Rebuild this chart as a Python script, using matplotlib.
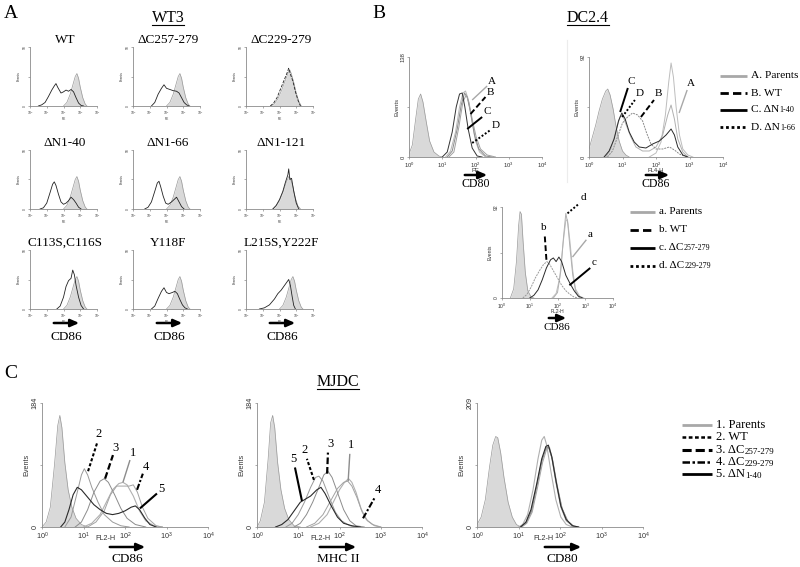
import matplotlib
matplotlib.use("Agg")
import matplotlib.pyplot as plt
import numpy as np
from matplotlib.ticker import NullLocator

plt.rcParams['mathtext.default'] = 'regular'

SERIF = 'Liberation Serif'
SANS = 'Liberation Sans'
W, H = 800, 567

# ---------------- panel A : WT3 (log10 position, fraction of y max) ----------------
A_TITLES = [["WT", "ΔC257-279", "ΔC229-279"],
            ["ΔN1-40", "ΔN1-66", "ΔN1-121"],
            ["C113S,C116S", "Y118F", "L215S,Y222F"]]
A_YMAX = 58

A_ISO = [(2.0, 0), (2.2, .06), (2.4, .2), (2.55, .35), (2.7, .5), (2.8, .55), (2.9, .47),
         (3.0, .32), (3.15, .14), (3.3, .03), (3.4, 0)]
A_ISO_C229 = [(1.5, 0), (1.7, .04), (1.9, .12), (2.1, .25), (2.3, .4), (2.5, .55), (2.6, .62),
              (2.7, .55), (2.85, .4), (3.0, .22), (3.15, .08), (3.3, 0)]
A_ISO_N121 = [(1.6, 0), (1.8, .05), (2.0, .14), (2.2, .28), (2.4, .45), (2.55, .55), (2.65, .52),
              (2.8, .38), (2.95, .18), (3.1, .05), (3.25, 0)]

A_WT = [(0.5, 0), (0.7, .02), (0.9, .06), (1.1, .16), (1.3, .27), (1.45, .34), (1.55, .38),
        (1.65, .32), (1.75, .27), (1.85, .22), (2.0, .24), (2.15, .27), (2.3, .25), (2.45, .28),
        (2.6, .24), (2.75, .14), (2.9, .05), (3.05, .01), (3.2, 0)]
A_C257 = [(1.1, 0), (1.3, .06), (1.5, .2), (1.7, .3), (1.85, .36), (2.0, .3), (2.2, .28),
          (2.4, .26), (2.6, .25), (2.75, .22), (2.9, .14), (3.05, .06), (3.2, .02), (3.35, 0)]
A_C229 = [(1.45, 0), (1.65, .05), (1.85, .14), (2.05, .28), (2.25, .42), (2.45, .56), (2.55, .64),
          (2.65, .54), (2.8, .42), (2.95, .24), (3.1, .1), (3.25, 0)]
A_N40 = [(0.6, 0), (0.8, .02), (1.0, .1), (1.2, .28), (1.35, .42), (1.45, .46), (1.55, .4),
         (1.7, .25), (1.85, .12), (2.0, .08), (2.15, .1), (2.3, .14), (2.45, .2), (2.6, .16),
         (2.75, .1), (2.9, .03), (3.05, 0)]
A_N66 = [(0.7, 0), (0.9, .03), (1.1, .12), (1.3, .3), (1.45, .44), (1.55, .47), (1.65, .38),
         (1.8, .22), (1.95, .1), (2.1, .08), (2.3, .12), (2.45, .16), (2.6, .2), (2.75, .12),
         (2.9, .04), (3.05, 0)]
A_N121 = [(1.6, 0), (1.8, .06), (2.0, .16), (2.2, .3), (2.35, .45), (2.5, .58), (2.55, .68),
          (2.62, .5), (2.72, .52), (2.85, .3), (3.0, .1), (3.15, 0)]
A_C113 = [(1.6, 0), (1.8, .05), (2.0, .2), (2.15, .38), (2.3, .48), (2.45, .52), (2.55, .66),
          (2.65, .58), (2.75, .4), (2.9, .2), (3.05, .06), (3.2, 0)]
A_Y118 = [(1.1, 0), (1.3, .05), (1.5, .18), (1.7, .3), (1.85, .36), (2.0, .28), (2.15, .26),
          (2.35, .28), (2.5, .3), (2.65, .26), (2.8, .16), (2.95, .07), (3.1, .02), (3.25, 0)]
A_L215 = [(0.8, 0), (1.1, .02), (1.4, .07), (1.7, .17), (1.9, .26), (2.1, .32), (2.3, .4),
          (2.45, .46), (2.55, .5), (2.65, .4), (2.75, .22), (2.85, .06), (2.95, 0)]

A_CURVES = [[A_WT, A_C257, A_C229], [A_N40, A_N66, A_N121], [A_C113, A_Y118, A_L215]]
A_ISOS = [[A_ISO, A_ISO, A_ISO_C229], [A_ISO, A_ISO, A_ISO_N121], [A_ISO, A_ISO, A_ISO]]

# ---------------- panel B : DC2.4 ----------------
B1_YMAX = 138
B1_ISO = [(0.0, .03), (0.1, .12), (0.2, .38), (0.28, .58), (0.35, .63), (0.42, .55), (0.52, .35),
          (0.62, .16), (0.75, .05), (0.9, .01), (1.0, 0)]
B1_A = [(1.1, 0), (1.25, .06), (1.4, .25), (1.52, .5), (1.62, .64), (1.7, .66), (1.78, .58),
        (1.88, .38), (2.0, .16), (2.12, .05), (2.3, 0)]
B1_B = [(1.15, 0), (1.3, .06), (1.45, .28), (1.57, .52), (1.67, .64), (1.75, .6), (1.85, .45),
        (1.97, .22), (2.1, .08), (2.3, .01), (2.5, 0)]
B1_C = [(1.0, 0), (1.15, .05), (1.3, .25), (1.42, .5), (1.52, .63), (1.6, .64), (1.68, .5),
        (1.78, .28), (1.9, .09), (2.05, .01), (2.2, 0)]
B1_D = [(1.2, 0), (1.35, .05), (1.5, .3), (1.62, .55), (1.72, .62), (1.8, .55), (1.9, .38),
        (2.02, .2), (2.15, .08), (2.35, .02), (2.6, 0)]
B1_LEADERS = [("A", (1.9, .57), (2.35, .71), (2.5, .75)),
              ("B", (1.85, .43), (2.3, .6), (2.45, .64)),
              ("C", (1.75, .28), (2.2, .4), (2.35, .45)),
              ("D", (1.9, .14), (2.45, .27), (2.6, .31))]

B2_YMAX = 92
B2_ISO = [(0.0, .08), (0.1, .2), (0.2, .32), (0.3, .46), (0.4, .58), (0.5, .66), (0.56, .68),
          (0.63, .62), (0.72, .48), (0.8, .32), (0.9, .16), (1.0, .06), (1.1, .02), (1.2, 0)]
B2_A = [(1.8, 0), (2.0, .04), (2.15, .15), (2.28, .42), (2.38, .75), (2.45, .94), (2.52, .8),
        (2.6, .5), (2.7, .22), (2.8, .08), (2.95, .02), (3.1, 0)]
B2_B = [(0.55, 0), (0.7, .06), (0.85, .2), (1.0, .34), (1.15, .4), (1.3, .44), (1.45, .42),
        (1.6, .36), (1.72, .24), (1.85, .13), (2.0, .08), (2.2, .08), (2.4, .1), (2.55, .07),
        (2.7, .03), (2.9, 0)]
B2_C = [(0.45, 0), (0.6, .06), (0.75, .18), (0.88, .36), (0.98, .44), (1.08, .38), (1.2, .25),
        (1.35, .15), (1.5, .1), (1.7, .09), (1.9, .13), (2.1, .16), (2.3, .22), (2.45, .28),
        (2.55, .22), (2.65, .1), (2.8, .02), (2.95, 0)]
B2_D = [(0.5, 0), (0.65, .08), (0.8, .25), (0.92, .4), (1.0, .42), (1.1, .33), (1.25, .2),
        (1.4, .1), (1.6, .06), (1.8, .06), (2.0, .1), (2.2, .22), (2.35, .42), (2.45, .52),
        (2.55, .38), (2.65, .18), (2.8, .05), (2.95, 0)]
B2_LEADERS = [("A", (2.69, .44), (2.93, .67), (3.04, .73)),
              ("B", (1.55, .40), (1.94, .57), (2.06, .63)),
              ("C", (0.93, .45), (1.16, .69), (1.25, .75)),
              ("D", (0.99, .40), (1.37, .57), (1.5, .63))]

B3_YMAX = 92
B3_ISO = [(0.3, 0), (0.42, .1), (0.52, .4), (0.6, .8), (0.65, .95), (0.7, .92), (0.76, .62),
          (0.84, .28), (0.93, .08), (1.05, .01), (1.15, 0)]
B3_A = [(1.8, 0), (1.95, .05), (2.08, .22), (2.2, .6), (2.3, .85), (2.36, .86), (2.45, .62),
        (2.55, .3), (2.65, .1), (2.8, .02), (2.95, 0)]
B3_B = [(0.75, 0), (0.9, .04), (1.05, .12), (1.2, .22), (1.35, .3), (1.5, .37), (1.62, .4),
        (1.72, .37), (1.85, .3), (2.0, .22), (2.15, .14), (2.3, .08), (2.45, .04), (2.6, .01),
        (2.75, 0)]
B3_C = [(1.0, 0), (1.15, .03), (1.3, .09), (1.45, .2), (1.6, .33), (1.75, .42), (1.85, .44),
        (1.95, .4), (2.05, .45), (2.15, .4), (2.3, .25), (2.45, .16), (2.6, .08), (2.75, .02),
        (2.9, 0)]
B3_D = [(1.85, 0), (2.0, .06), (2.12, .3), (2.22, .68), (2.3, .93), (2.37, .82), (2.45, .55),
        (2.55, .25), (2.65, .08), (2.8, 0)]
B3_LEADERS = [("a", (2.54, .45), (3.04, .64), (3.17, .7)),
              ("b", (1.6, .42), (1.54, .69), (1.5, .78)),
              ("c", (2.43, .14), (3.18, .33), (3.3, .39)),
              ("d", (2.36, .93), (2.79, 1.04), (2.92, 1.1))]

B_LEGEND_UP = [("A. Parents", ""), ("B. WT", ""), ("C. ΔN", "1-40"), ("D. ΔN", "1-66")]
B_LEGEND_LOW = [("a. Parents", ""), ("b. WT", ""), ("c. ΔC", "257-279"), ("d. ΔC", "229-279")]

# ---------------- panel C : MJDC ----------------
C1_YMAX = 184
C1_ISO = [(0.0, 0), (0.1, .04), (0.2, .16), (0.3, .5), (0.38, .82), (0.43, .9), (0.48, .8),
          (0.55, .52), (0.63, .3), (0.72, .16), (0.82, .07), (0.95, .02), (1.1, 0)]
C1_1 = [(1.0, 0), (1.2, .03), (1.4, .1), (1.55, .2), (1.7, .3), (1.85, .35), (1.95, .36),
        (2.05, .34), (2.2, .25), (2.35, .13), (2.5, .05), (2.7, .01), (2.9, 0)]
C1_2 = [(0.55, 0), (0.7, .08), (0.85, .28), (0.95, .42), (1.02, .47), (1.1, .42), (1.2, .32),
        (1.35, .2), (1.5, .1), (1.7, .04), (1.9, .01), (2.1, 0)]
C1_3 = [(0.8, 0), (0.95, .04), (1.1, .14), (1.25, .28), (1.4, .37), (1.5, .39), (1.6, .36),
        (1.75, .26), (1.9, .15), (2.05, .07), (2.25, .02), (2.5, 0)]
C1_4 = [(1.1, 0), (1.3, .04), (1.5, .13), (1.65, .26), (1.8, .33), (1.95, .33), (2.1, .33),
        (2.2, .34), (2.3, .28), (2.42, .16), (2.55, .07), (2.75, .01), (2.9, 0)]
C1_5 = [(0.45, 0), (0.55, .04), (0.65, .14), (0.75, .26), (0.85, .32), (0.95, .3), (1.1, .24),
        (1.25, .18), (1.4, .14), (1.55, .11), (1.7, .1), (1.85, .11), (2.0, .13), (2.15, .16),
        (2.25, .17), (2.35, .14), (2.48, .07), (2.6, .02), (2.75, 0)]
C1_LEADERS = [("1", (1.95, .36), (2.12, .54), (2.19, .6)),
              ("2", (1.11, .45), (1.33, .68), (1.37, .75)),
              ("3", (1.52, .39), (1.71, .58), (1.78, .64)),
              ("4", (2.29, .3), (2.43, .43), (2.5, .48)),
              ("5", (2.36, .15), (2.77, .27), (2.87, .31))]

C2_YMAX = 184
C2_ISO = [(0.0, 0), (0.08, .05), (0.18, .2), (0.27, .55), (0.33, .84), (0.38, .9), (0.43, .8),
          (0.5, .52), (0.58, .3), (0.67, .15), (0.77, .06), (0.9, .01), (1.05, 0)]
C2_1 = [(1.3, 0), (1.5, .03), (1.7, .1), (1.85, .2), (2.0, .3), (2.12, .36), (2.22, .39),
        (2.3, .36), (2.4, .28), (2.52, .15), (2.65, .06), (2.8, .02), (3.0, 0)]
C2_2 = [(0.7, 0), (0.85, .03), (1.0, .1), (1.15, .2), (1.3, .32), (1.42, .4), (1.5, .41),
        (1.6, .37), (1.75, .24), (1.9, .12), (2.05, .05), (2.25, .01), (2.4, 0)]
C2_3 = [(0.9, 0), (1.05, .03), (1.2, .1), (1.35, .2), (1.5, .32), (1.62, .42), (1.72, .45),
        (1.82, .4), (1.95, .28), (2.1, .14), (2.25, .05), (2.4, .01), (2.6, 0)]
C2_4 = [(1.2, 0), (1.4, .03), (1.6, .1), (1.8, .22), (1.95, .31), (2.1, .36), (2.2, .37),
        (2.3, .33), (2.42, .24), (2.55, .12), (2.68, .05), (2.85, .01), (3.0, 0)]
C2_5 = [(0.45, 0), (0.6, .02), (0.75, .06), (0.9, .13), (1.05, .2), (1.15, .22), (1.3, .25),
        (1.45, .3), (1.55, .32), (1.65, .27), (1.8, .17), (1.95, .08), (2.1, .03), (2.3, .01),
        (2.5, 0)]
C2_LEADERS = [("1", (2.21, .37), (2.25, .59), (2.28, .66)),
              ("2", (1.38, .38), (1.21, .55), (1.16, .62)),
              ("3", (1.7, .43), (1.72, .6), (1.77, .67)),
              ("4", (2.57, .07), (2.86, .24), (2.93, .3)),
              ("5", (1.09, .21), (0.92, .48), (0.87, .55))]

C3_YMAX = 209
C3_ISO = [(0.0, .02), (0.1, .08), (0.2, .22), (0.3, .48), (0.38, .66), (0.45, .73), (0.5, .72),
          (0.57, .6), (0.65, .4), (0.75, .2), (0.85, .08), (0.95, .02), (1.05, 0)]
C3_1 = [(1.0, 0), (1.1, .02), (1.22, .1), (1.35, .3), (1.47, .55), (1.56, .7), (1.62, .73),
        (1.68, .66), (1.78, .45), (1.9, .22), (2.02, .08), (2.15, .02), (2.3, 0)]
C3_2 = [(1.05, 0), (1.17, .03), (1.3, .12), (1.43, .32), (1.55, .52), (1.65, .63), (1.72, .65),
        (1.8, .56), (1.9, .36), (2.02, .16), (2.15, .05), (2.3, .01), (2.45, 0)]
C3_3 = [(1.05, 0), (1.18, .03), (1.32, .13), (1.45, .34), (1.57, .54), (1.67, .64), (1.73, .64),
        (1.82, .54), (1.92, .34), (2.05, .15), (2.18, .05), (2.35, 0)]
C3_4 = [(1.08, 0), (1.2, .03), (1.33, .12), (1.46, .32), (1.58, .52), (1.68, .63), (1.75, .64),
        (1.83, .53), (1.93, .34), (2.05, .15), (2.2, .04), (2.35, 0)]
C3_5 = [(1.05, 0), (1.18, .04), (1.3, .14), (1.44, .35), (1.56, .55), (1.66, .65), (1.72, .66),
        (1.8, .57), (1.9, .38), (2.02, .17), (2.15, .06), (2.3, .01), (2.45, 0)]

C_LEGEND = [("1. Parents", ""), ("2. WT", ""), ("3. ΔC", "257-279"), ("4. ΔC", "229-279"),
            ("5. ΔN", "1-40")]

# line looks
GRAY = '#a8a8a8'
B_LEAD_STYLE = {"A": dict(color=GRAY, ls='-', lw=1.0), "B": dict(color='k', ls=(0, (3, 1.5)), lw=1.4),
                "C": dict(color='k', ls='-', lw=1.4), "D": dict(color='k', ls=(0, (1, 1)), lw=1.4)}
C_LEAD_STYLE = {"1": dict(color='#8c8c8c', ls='-', lw=1.0), "2": dict(color='k', ls=(0, (1.5, 1)), lw=1.5),
                "3": dict(color='k', ls=(0, (3, 1.3)), lw=1.6), "4": dict(color='k', ls=(0, (3, 1, 1, 1)), lw=1.5),
                "5": dict(color='k', ls='-', lw=1.5)}

fig = plt.figure(figsize=(8, 5.67), dpi=100)
ov = fig.add_axes([0, 0, 1, 1])
ov.set_xlim(0, W)
ov.set_ylim(H, 0)
ov.axis('off')


def px_axes(x0, x1, ytop, ybot):
    return fig.add_axes([x0 / W, 1 - ybot / H, (x1 - x0) / W, (ybot - ytop) / H])


def flow_axes(x0, x1, ytop, ybot, ymax, fs, xlab, xpad=0, xlab_at=None):
    ax = px_axes(x0, x1, ytop, ybot)
    ax.patch.set_alpha(0)
    ax.set_xscale('log')
    ax.set_xlim(1, 1e4)
    ax.set_ylim(0, ymax)
    for s in ['top', 'right']:
        ax.spines[s].set_visible(False)
    for s in ['left', 'bottom']:
        ax.spines[s].set_color('#8a8a8a')
        ax.spines[s].set_linewidth(0.6)
    ax.set_xticks([1, 10, 100, 1000, 10000])
    ax.set_xticklabels([r'$10^{%d}$' % i for i in range(5)], fontsize=fs, family=SANS)
    ax.xaxis.set_minor_locator(NullLocator())
    ax.set_yticks([0, ymax / 2, ymax])
    ax.set_yticklabels(['0', '', str(ymax)], fontsize=fs, family=SANS, rotation=90, va='center')
    ax.tick_params(length=1.5, width=0.5, pad=1, colors='#8a8a8a', labelcolor='#333')
    ax.set_ylabel('Events', fontsize=fs, family=SANS, labelpad=1, color='#333')
    ax.set_xlabel(xlab, fontsize=fs, family=SANS, labelpad=xpad, color='#333')
    if xlab_at is not None:
        ax.xaxis.set_label_coords(*xlab_at)
    return ax


def curve(ax, pts, ymax, fill=False, **kw):
    x = 10 ** np.array([p[0] for p in pts])
    y = np.array([p[1] for p in pts]) * ymax
    if fill:
        ax.fill_between(x, y, color='#d9d9d9', lw=0)
        ax.plot(x, y, color='#999999', lw=0.5)
    else:
        ax.plot(x, y, **kw)


def leaders(ax, items, ymax, styles, fs):
    for lab, p0, p1, pt in items:
        ax.plot([10 ** p0[0], 10 ** p1[0]], [p0[1] * ymax, p1[1] * ymax], clip_on=False,
                solid_capstyle='butt', **styles[lab.upper()])
        ax.text(10 ** pt[0], pt[1] * ymax, lab, fontsize=fs, family=SERIF, ha='center', va='center')


def arrow(x0, x1, y):
    ov.annotate('', xy=(x1, y), xytext=(x0, y),
                arrowprops=dict(arrowstyle='-|>,head_length=0.5,head_width=0.22', lw=1.8, color='k'))


def legend_entry(x0, x1, y, style, label, sub, fs):
    ov.plot([x0, x1], [y, y], solid_capstyle='butt', **style)
    t = ov.text(x1 + 4, y, label, fontsize=fs, family=SERIF, va='center', ha='left')
    if sub:
        ov.annotate(sub, xy=(1, 0), xycoords=t, fontsize=fs * 0.72, family=SERIF, va='bottom', ha='left')


# ---- panel A ----
ov.text(4, 13, 'A', fontsize=14, family=SERIF, va='center')
t_wt3 = ov.text(168, 18, 'WT3', fontsize=11.5, family=SERIF, ha='center', va='center')
A_COLS = [30, 133, 246]
A_ROWS = [(47, 106), (150, 209), (250, 309)]
for r in range(3):
    for c in range(3):
        ax = flow_axes(A_COLS[c], A_COLS[c] + 67, A_ROWS[r][0], A_ROWS[r][1], A_YMAX, 2.3, 'PE')
        curve(ax, A_ISOS[r][c], A_YMAX, fill=True)
        ls = '--' if (r == 0 and c == 2) else '-'
        curve(ax, A_CURVES[r][c], A_YMAX, color='#222222', lw=0.6, ls=ls)
        ov.text(A_COLS[c] + 35, A_ROWS[r][0] - 7, A_TITLES[r][c], fontsize=9.5, family=SERIF,
                ha='center', va='center')
for c in range(3):
    xc = A_COLS[c] + 36
    arrow(xc - 15, xc + 16, 323)
    ov.text(xc, 337, 'CD86', fontsize=9.5, family=SERIF, ha='center', va='center')

# ---- panel B ----
ov.text(372, 13, 'B', fontsize=14, family=SERIF, va='center')
t_dc = ov.text(588, 18, 'DC2.4', fontsize=11.5, family=SERIF, ha='center', va='center')
ov.plot([567, 567], [40, 182], color='#ececec', lw=0.8)

ax = flow_axes(409, 542, 57, 157, B1_YMAX, 4.2, 'PE', -1)
curve(ax, B1_ISO, B1_YMAX, fill=True)
curve(ax, B1_A, B1_YMAX, color='#b8b8b8', lw=0.7)
curve(ax, B1_B, B1_YMAX, color='#8a8a8a', lw=0.7)
curve(ax, B1_D, B1_YMAX, color='#a0a0a0', lw=0.7)
curve(ax, B1_C, B1_YMAX, color='#333333', lw=0.7)
leaders(ax, B1_LEADERS, B1_YMAX, B_LEAD_STYLE, 8)
arrow(462, 490, 175)
ov.text(476, 184, 'CD80', fontsize=8.5, family=SERIF, ha='center', va='center')

ax = flow_axes(589, 723, 57, 157, B2_YMAX, 4.2, 'FL4-H', -1)
curve(ax, B2_ISO, B2_YMAX, fill=True)
curve(ax, B2_A, B2_YMAX, color='#bdbdbd', lw=0.7)
curve(ax, B2_D, B2_YMAX, color='#b0b0b0', lw=0.7)
curve(ax, B2_B, B2_YMAX, color='#8a8a8a', lw=0.7, ls=(0, (2, 1)))
curve(ax, B2_C, B2_YMAX, color='#2a2a2a', lw=0.7)
leaders(ax, B2_LEADERS, B2_YMAX, B_LEAD_STYLE, 8)
arrow(643, 672, 175)
ov.text(656, 184, 'CD86', fontsize=8.5, family=SERIF, ha='center', va='center')

B_LEG_STYLES = [dict(color=GRAY, ls='-', lw=2.0), dict(color='k', ls=(0, (3, 1.5)), lw=2.0),
                dict(color='k', ls='-', lw=2.0), dict(color='k', ls=(0, (1, 1)), lw=2.0)]
for i, (lab, sub) in enumerate(B_LEGEND_UP):
    legend_entry(720, 747, 76 + i * 17, B_LEG_STYLES[i], lab, sub, 8.2)

ax = flow_axes(502, 613, 207, 298, B3_YMAX, 3.6, 'FL2-H', -1)
curve(ax, B3_ISO, B3_YMAX, fill=True)
curve(ax, B3_A, B3_YMAX, color='#c0c0c0', lw=0.7)
curve(ax, B3_D, B3_YMAX, color='#b0b0b0', lw=0.7)
curve(ax, B3_B, B3_YMAX, color='#9a9a9a', lw=0.7, ls=(0, (2, 1)))
curve(ax, B3_C, B3_YMAX, color='#2a2a2a', lw=0.7)
leaders(ax, B3_LEADERS, B3_YMAX, B_LEAD_STYLE, 8)
arrow(546, 569, 318)
ov.text(557, 328, 'CD86', fontsize=8, family=SERIF, ha='center', va='center')
for i, (lab, sub) in enumerate(B_LEGEND_LOW):
    legend_entry(630, 655, 212 + i * 18, B_LEG_STYLES[i], lab, sub, 8)

# ---- panel C ----
ov.text(4, 373, 'C', fontsize=14, family=SERIF, va='center')
t_mj = ov.text(338, 382, 'MJDC', fontsize=11.5, family=SERIF, ha='center', va='center')

C_CURVE_LOOK = [dict(color='#b0b0b0', lw=0.8), dict(color='#9a9a9a', lw=0.7),
                dict(color='#8c8c8c', lw=0.7), dict(color='#a2a2a2', lw=0.7),
                dict(color='#2a2a2a', lw=0.8)]

ax = flow_axes(42, 208, 403, 527, C1_YMAX, 5.2, 'FL2-H', 0, (0.385, -0.065))
curve(ax, C1_ISO, C1_YMAX, fill=True)
for pts, look in zip([C1_1, C1_2, C1_3, C1_4, C1_5], C_CURVE_LOOK):
    curve(ax, pts, C1_YMAX, **look)
leaders(ax, C1_LEADERS, C1_YMAX, C_LEAD_STYLE, 9)
arrow(107, 148, 547)
ov.text(127, 559, 'CD86', fontsize=9.5, family=SERIF, ha='center', va='center')

ax = flow_axes(257, 422, 403, 527, C2_YMAX, 5.2, 'FL2-H', 0, (0.385, -0.065))
curve(ax, C2_ISO, C2_YMAX, fill=True)
for pts, look in zip([C2_1, C2_2, C2_3, C2_4, C2_5], C_CURVE_LOOK):
    curve(ax, pts, C2_YMAX, **look)
leaders(ax, C2_LEADERS, C2_YMAX, C_LEAD_STYLE, 9)
arrow(317, 359, 547)
ov.text(338, 559, 'MHC II', fontsize=9.5, family=SERIF, ha='center', va='center')

ax = flow_axes(477, 643, 403, 527, C3_YMAX, 5.2, 'FL2-H', 0, (0.4, -0.065))
curve(ax, C3_ISO, C3_YMAX, fill=True)
for pts, look in zip([C3_1, C3_2, C3_3, C3_4, C3_5], C_CURVE_LOOK):
    curve(ax, pts, C3_YMAX, **look)
arrow(542, 584, 547)
ov.text(562, 559, 'CD80', fontsize=9.5, family=SERIF, ha='center', va='center')

C_LEG_STYLES = [dict(color=GRAY, ls='-', lw=2.0), dict(color='k', ls=(0, (1.5, 1)), lw=1.8),
                dict(color='k', ls=(0, (3, 1.3)), lw=2.2), dict(color='k', ls=(0, (3, 1, 1, 1)), lw=1.8),
                dict(color='k', ls='-', lw=2.0)]
for i, (lab, sub) in enumerate(C_LEGEND):
    legend_entry(682, 712, 425 + i * 12.3, C_LEG_STYLES[i], lab, sub, 9)

# underline the three cell-line headings
fig.canvas.draw()
inv = ov.transData.inverted()
for t in [t_wt3, t_dc, t_mj]:
    bb = t.get_window_extent()
    (xa, ya), (xb, yb) = inv.transform([[bb.x0, bb.y0], [bb.x1, bb.y1]])
    ov.plot([xa, xb], [ya - 1.5, ya - 1.5], color='k', lw=0.8)

fig.savefig('out.png', dpi=100)
